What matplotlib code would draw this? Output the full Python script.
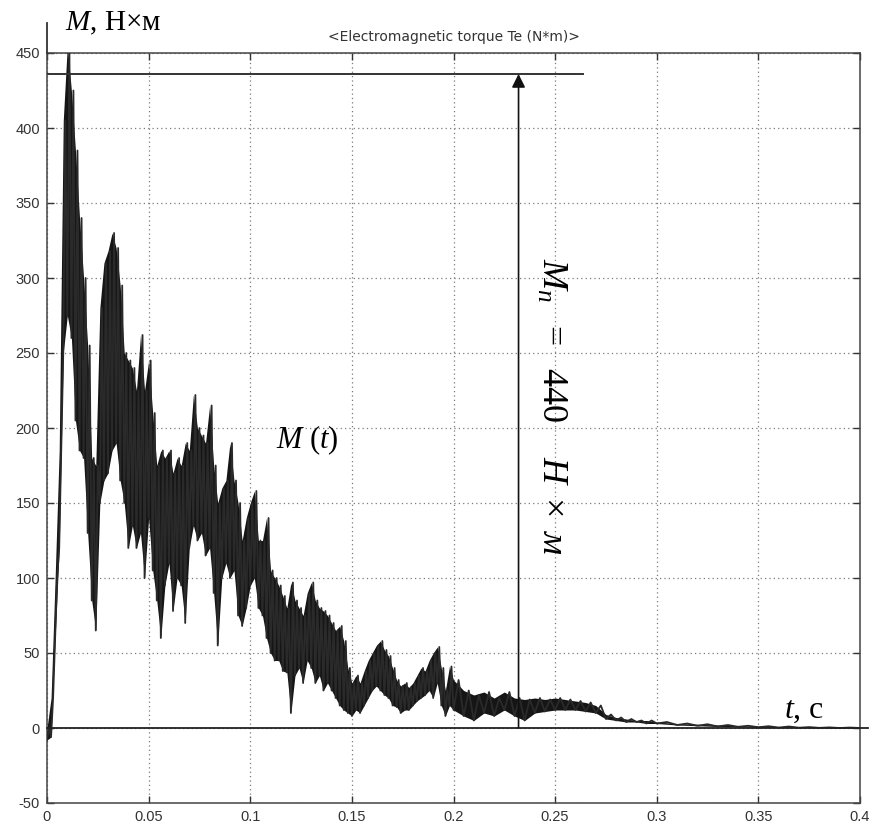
import matplotlib
matplotlib.use('Agg')
import matplotlib.pyplot as plt

# ---- data (envelope of the oscillating torque) ----
t_env = [0.000, 0.002, 0.004, 0.006, 0.008, 0.010, 0.012, 0.014, 0.016, 0.018,
         0.020, 0.022, 0.024, 0.026, 0.028, 0.030, 0.032, 0.034, 0.036, 0.038,
         0.040, 0.042, 0.044, 0.046, 0.048, 0.050, 0.052, 0.054, 0.056, 0.058,
         0.060, 0.062, 0.064, 0.066, 0.068, 0.070, 0.072, 0.074, 0.076, 0.078,
         0.080, 0.082, 0.084, 0.086, 0.088, 0.090, 0.092, 0.094, 0.096, 0.098,
         0.100, 0.102, 0.104, 0.106, 0.108, 0.110, 0.112, 0.114, 0.116, 0.118,
         0.120, 0.122, 0.124, 0.126, 0.128, 0.130, 0.132, 0.134, 0.136, 0.138,
         0.140, 0.142, 0.144, 0.146, 0.148, 0.150, 0.152, 0.154, 0.156, 0.158,
         0.160, 0.162, 0.164, 0.166, 0.168, 0.170, 0.172, 0.174, 0.176, 0.178,
         0.180, 0.182, 0.184, 0.186, 0.188, 0.190, 0.192, 0.194, 0.196, 0.198,
         0.200, 0.205, 0.210, 0.215, 0.220, 0.225, 0.230, 0.235, 0.240, 0.245,
         0.250, 0.255, 0.260, 0.265, 0.270, 0.275, 0.280, 0.285, 0.290, 0.295,
         0.300, 0.310, 0.320, 0.330, 0.340, 0.350, 0.360, 0.370, 0.380, 0.390,
         0.400]
m_high = [0, 20, 100, 185, 405, 455, 425, 385, 340, 300,
          255, 180, 175, 280, 310, 318, 330, 320, 295, 250,
          245, 240, 225, 262, 225, 245, 210, 175, 185, 180,
          185, 170, 180, 175, 190, 185, 222, 200, 195, 190,
          215, 175, 150, 160, 165, 190, 165, 150, 125, 140,
          150, 158, 125, 125, 140, 105, 100, 95, 88, 80,
          97, 85, 80, 75, 90, 97, 85, 80, 78, 75,
          70, 65, 68, 58, 40, 30, 35, 30, 38, 45,
          50, 55, 58, 52, 48, 40, 32, 28, 30, 27,
          30, 35, 40, 38, 45, 50, 54, 40, 25, 41,
          32, 25, 22, 24, 20, 24, 20, 19, 20, 19,
          20, 19, 18, 17, 15, 9, 7, 6, 5, 5,
          4, 3, 2.5, 2, 1.5, 1.2, 1.0, 0.6, 0.4, 0.3,
          0.2]
m_low = [-8, -6, 60, 120, 250, 275, 260, 205, 185, 180,
         130, 85, 65, 150, 165, 170, 185, 190, 165, 150,
         120, 135, 120, 130, 100, 140, 105, 85, 60, 95,
         110, 78, 100, 95, 70, 120, 135, 125, 130, 115,
         120, 90, 55, 100, 110, 100, 105, 75, 68, 80,
         95, 100, 80, 75, 60, 50, 45, 45, 38, 37,
         10, 35, 40, 30, 45, 40, 30, 35, 25, 30,
         25, 20, 15, 12, 10, 8, 12, 10, 15, 20,
         25, 28, 25, 22, 20, 15, 14, 10, 12, 12,
         15, 18, 20, 22, 25, 20, 30, 15, 8, 15,
         12, 8, 5, 10, 8, 12, 8, 5, 10, 11,
         12, 12, 12, 11, 10, 6, 5, 4, 4, 3,
         3, 2, 1.5, 1, 0.8, 0.5, 0.3, 0.2, 0.1, 0.0,
         0.0]

x_ticks = [0, 0.05, 0.1, 0.15, 0.2, 0.25, 0.3, 0.35, 0.4]
x_tick_labels = ['0', '0.05', '0.1', '0.15', '0.2', '0.25', '0.3', '0.35', '0.4']
y_ticks = [-50, 0, 50, 100, 150, 200, 250, 300, 350, 400, 450]
y_tick_labels = ['-50', '0', '50', '100', '150', '200', '250', '300', '350', '400', '450']

starting_torque = 436      # level of the horizontal marker line
arrow_time = 0.232         # time where the vertical arrow is drawn
level_line_end = 0.2635    # end of the horizontal marker line

title_text = '<Electromagnetic torque Te (N*m)>'

# ---- figure ----
plt.rcParams['mathtext.fontset'] = 'custom'
plt.rcParams['mathtext.rm'] = 'Liberation Serif'
plt.rcParams['mathtext.it'] = 'Liberation Serif:italic'
plt.rcParams['mathtext.bf'] = 'Liberation Serif:bold'

fig = plt.figure(figsize=(8.78, 8.32), dpi=100)
ax = fig.add_axes([47 / 878, 1 - 803 / 832, (860 - 47) / 878, (803 - 53) / 832])

# oscillation band between the read lower and upper envelopes
ax.fill_between(t_env, m_low, m_high, color='#151515', lw=0, zorder=3)
# oscillating trace alternating between the two envelopes
xs, ys = [], []
for i, t in enumerate(t_env):
    nxt = t_env[i + 1] if i < len(t_env) - 1 else t
    xs += [t, (t + nxt) / 2]
    ys += [m_low[i], m_high[i]]
ax.plot(xs, ys, color='#2a2a2a', lw=1.3, zorder=3)

ax.set_xlim(0, 0.4)
ax.set_ylim(-50, 450)
ax.set_xticks(x_ticks)
ax.set_xticklabels(x_tick_labels)
ax.set_yticks(y_ticks)
ax.set_yticklabels(y_tick_labels)
ax.grid(True, linestyle=(0, (1, 2.5)), color='#7a7a7a', lw=0.9)
ax.tick_params(direction='in', top=True, right=True, length=5, width=1,
               colors='#333333', labelsize=10.5, pad=5)
for lab in ax.get_xticklabels() + ax.get_yticklabels():
    lab.set_fontfamily('Liberation Sans')
for s in ax.spines.values():
    s.set_color('#444444')
    s.set_linewidth(1.1)

ax.set_title(title_text, fontsize=10, color='#333333', pad=9,
             fontfamily='DejaVu Sans')

# zero axis line and extended vertical axis
ax.plot([0, 0.404], [0, 0], color='#222222', lw=1.3, clip_on=False, zorder=4)
ax.plot([0, 0], [450, 470], color='#333333', lw=1.3, clip_on=False, zorder=4)

# horizontal level line and arrow
ax.plot([0, level_line_end], [starting_torque, starting_torque],
        color='#333333', lw=1.4, zorder=4)
ax.annotate('', xy=(arrow_time, starting_torque), xytext=(arrow_time, 0),
            arrowprops=dict(arrowstyle='-|>', color='#111111', lw=1.2,
                            mutation_scale=20, shrinkA=0, shrinkB=0),
            zorder=5)

# annotations
ax.text(0.009, 470, r'$M$, Н×м', fontsize=21, fontfamily='Liberation Serif',
        ha='left', va='center', clip_on=False)
ax.text(0.3626, 6.5, r'$t$, с', fontsize=23, fontfamily='Liberation Serif',
        ha='left', va='baseline')
ax.text(0.128, 192, r'$M\ (t)$', fontsize=22, ha='center', va='center')
ax.text(0.2485, 214, r'$M_{п}\ \ =\ \ 440\ \ \ \ H\ \times\ м$', fontsize=26,
        rotation=-90, ha='center', va='center')

fig.savefig('out.png', dpi=100)
